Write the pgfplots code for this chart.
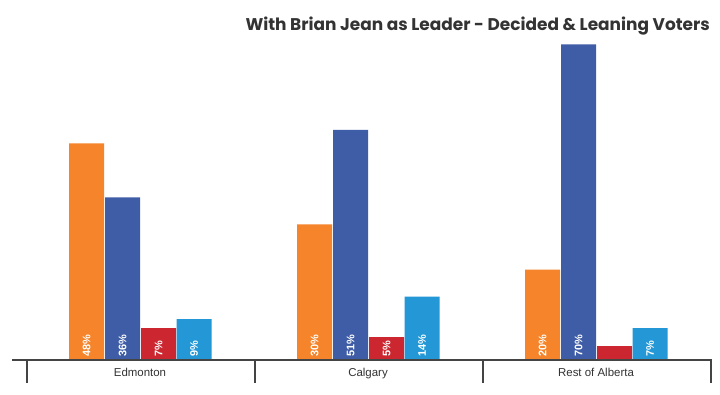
\documentclass[border=0pt]{standalone}
\usepackage{pgfplots}
\pgfplotsset{compat=1.18}
\usepackage{fontspec}
\setmainfont{Liberation Sans}
\newfontfamily\titlefont{Poppins}
\definecolor{cOr}{HTML}{F5842A}
\definecolor{cBl}{HTML}{3F5DA6}
\definecolor{cRd}{HTML}{CC2630}
\definecolor{cLb}{HTML}{2498D6}
\definecolor{cAx}{HTML}{444444}
\definecolor{cTx}{HTML}{333333}
\begin{document}
\begin{tikzpicture}
\begin{axis}[
  width=720bp, height=394bp, scale only axis,
  xmin=0, xmax=720, ymin=-7.6667, ymax=79.8889,
  axis lines=none, ticks=none, clip=false,
  every axis plot/.append style={ybar, bar width=35bp, bar shift=0pt, draw=none},
  nodes near coords, point meta=explicit symbolic,
  visualization depends on={rawy \as \rawy},
  every node near coord/.append style={yshift=-\rawy*4.5bp+2.5bp, rotate=90, anchor=west, inner sep=0pt, text=white, font=\bfseries\fontsize{11}{12}\selectfont},
]
\fill[white] (rel axis cs:0,0) rectangle (rel axis cs:1,1);
\addplot[fill=cOr] coordinates {(86.5,48)[48\%] (314.5,30)[30\%] (542.5,20)[20\%]};
\addplot[fill=cBl] coordinates {(122.5,36)[36\%] (350.5,51)[51\%] (578.5,70)[70\%]};
\addplot[fill=cRd] coordinates {(158.5,7)[7\%] (386.5,5)[5\%] (614.5,3)[]};
\addplot[fill=cLb] coordinates {(194,9)[9\%] (422,14)[14\%] (650,7)[7\%]};
\draw[line width=2bp, cAx] (axis cs:12,-0.111) -- (axis cs:712,-0.111);
\draw[line width=1.3bp, cAx] (axis cs:27,-0.111) -- (axis cs:27,-5.222);
\draw[line width=1.3bp, cAx] (axis cs:255,-0.111) -- (axis cs:255,-5.222);
\draw[line width=1.3bp, cAx] (axis cs:483,-0.111) -- (axis cs:483,-5.222);
\draw[line width=1.3bp, cAx] (axis cs:711,-0.111) -- (axis cs:711,-5.222);
\node[anchor=base, text=cTx, font=\fontsize{11.5}{13}\selectfont] at (axis cs:140,-3.667) {Edmonton};
\node[anchor=base, text=cTx, font=\fontsize{11.5}{13}\selectfont] at (axis cs:368,-3.667) {Calgary};
\node[anchor=base, text=cTx, font=\fontsize{11.5}{13}\selectfont] at (axis cs:596,-3.667) {Rest of Alberta};
\node[anchor=base east, inner sep=0pt, text=cTx, font=\titlefont\bfseries\fontsize{17}{19}\selectfont] at (axis cs:710,73.2) {With Brian Jean as Leader - Decided \& Leaning Voters};
\end{axis}
\end{tikzpicture}
\end{document}
